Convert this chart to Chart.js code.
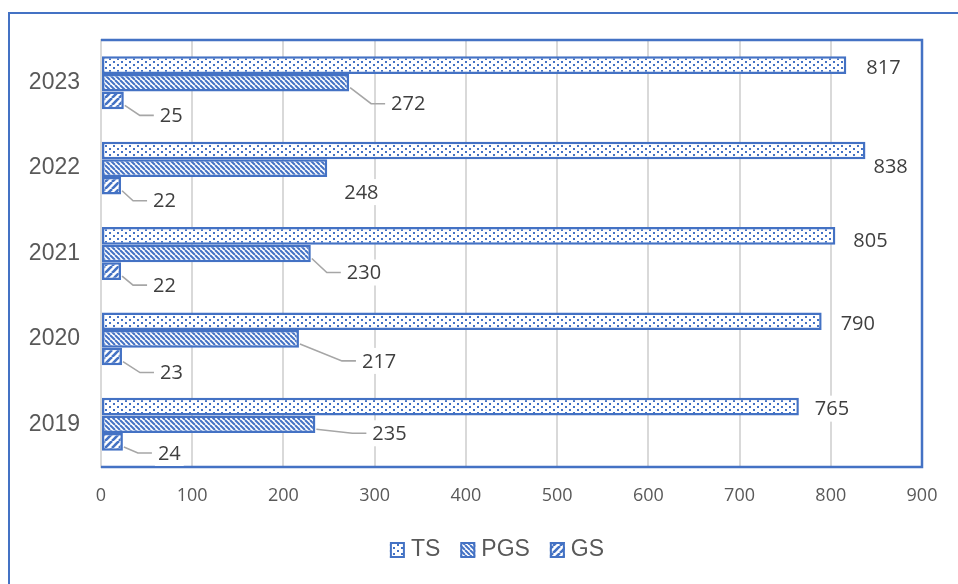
<!DOCTYPE html>
<html>
<head>
<meta charset="utf-8">
<script src="https://cdn.jsdelivr.net/npm/chart.js@4.4.1/dist/chart.umd.min.js"></script>
<style>
  html, body { margin: 0; padding: 0; background: #ffffff; }
  #wrap { width: 958px; height: 584px; position: relative; }
</style>
</head>
<body>
<div id="wrap"><canvas id="chart" width="958" height="584"></canvas></div>
<script>
// Years shown on the category axis, top to bottom
const categories = ['2023', '2022', '2021', '2020', '2019'];
// Series values per year
const tsValues  = [817, 838, 805, 790, 765];
const pgsValues = [272, 248, 230, 217, 235];
const gsValues  = [25, 22, 22, 23, 24];
const seriesNames = ['TS', 'PGS', 'GS'];
// Value axis ticks
const xTicks = [0, 100, 200, 300, 400, 500, 600, 700, 800, 900];

// Label placement relative to each bar's end: [dx, dy, leader line]
const labelPlacement = [
  [[20, 2, false], [8, 16, false], [18, 4, false], [19, 2, false], [16, 2, false]],
  [[42, 21, true], [17, 24, false], [36, 19, true], [63, 22, true], [57, 9, true]],
  [[36, 15, true], [32, 15, true], [32, 14, true], [38, 16, true], [35, 11, true]]
];

const BLUE = '#4472C4';

function makePattern(kind) {
  const c = document.createElement('canvas');
  const s = kind === 'dots' ? 8 : (kind === 'down' ? 5 : 7);
  c.width = s; c.height = kind === 'dots' ? 6 : s;
  const g = c.getContext('2d');
  g.fillStyle = '#ffffff';
  g.fillRect(0, 0, c.width, c.height);
  g.strokeStyle = BLUE;
  g.fillStyle = BLUE;
  if (kind === 'dots') {
    g.fillRect(1, 1, 2, 2);
    g.fillRect(5, 4, 2, 2);
  } else if (kind === 'down') {
    g.lineWidth = 2;
    for (let k = -1; k <= 1; k++) {
      g.beginPath(); g.moveTo(k * s, 0); g.lineTo(k * s + s, s); g.stroke();
    }
  } else {
    g.lineWidth = 2.6;
    for (let k = -1; k <= 1; k++) {
      g.beginPath(); g.moveTo(k * s, s); g.lineTo(k * s + s, 0); g.stroke();
    }
  }
  return g.createPattern(c, 'repeat');
}

const patterns = [makePattern('dots'), makePattern('down'), makePattern('up')];
const seriesValues = [tsValues, pgsValues, gsValues];

// Outer frame, plot border, value labels with leader lines, and legend
const decorations = {
  id: 'decorations',
  beforeDraw(chart) {
    const ctx = chart.ctx;
    ctx.save();
    ctx.fillStyle = '#ffffff';
    ctx.fillRect(0, 0, chart.width, chart.height);
    ctx.strokeStyle = BLUE;
    ctx.lineWidth = 2;
    ctx.strokeRect(9, 13, chart.width + 20, chart.height + 20);
    ctx.restore();
  },
  beforeDatasetsDraw(chart) {
    const a = chart.chartArea;
    const ctx = chart.ctx;
    ctx.save();
    ctx.strokeStyle = BLUE;
    ctx.lineWidth = 2.5;
    ctx.beginPath();
    ctx.moveTo(a.left, a.top); ctx.lineTo(a.right, a.top);
    ctx.lineTo(a.right, a.bottom); ctx.lineTo(a.left, a.bottom);
    ctx.stroke();
    ctx.restore();
  },
  afterDatasetsDraw(chart) {
    const ctx = chart.ctx;
    ctx.save();
    ctx.font = '20px "Open Sans"';
    ctx.textBaseline = 'middle';
    ctx.textAlign = 'left';
    chart.data.datasets.forEach((ds, di) => {
      const meta = chart.getDatasetMeta(di);
      meta.data.forEach((bar, i) => {
        const [dx, dy, leader] = labelPlacement[di][i];
        const text = String(ds.data[i]);
        const lx = bar.x + dx;
        const ly = bar.y + dy;
        const w = ctx.measureText(text).width;
        ctx.fillStyle = '#ffffff';
        ctx.fillRect(lx - 3, ly - 13, w + 6, 26);
        if (leader) {
          ctx.strokeStyle = '#a6a6a6';
          ctx.lineWidth = 1.6;
          ctx.beginPath();
          ctx.moveTo(bar.x + 1, bar.y + 5);
          ctx.lineTo(lx - 20, ly);
          ctx.lineTo(lx - 6, ly);
          ctx.stroke();
        }
        ctx.fillStyle = '#3f3f3f';
        ctx.fillText(text, lx, ly + 1);
      });
    });
    ctx.restore();
  },
  afterDraw(chart) {
    const ctx = chart.ctx;
    ctx.save();
    ctx.font = '23px "Liberation Sans"';
    ctx.textBaseline = 'middle';
    const box = 15, gapText = 6, gapItem = 20;
    const widths = seriesNames.map(n => box + gapText + ctx.measureText(n).width);
    const total = widths.reduce((s, v) => s + v, 0) + gapItem * (seriesNames.length - 1);
    let x = 497 - total / 2;
    const y = 550;
    seriesNames.forEach((n, i) => {
      ctx.fillStyle = patterns[i];
      ctx.fillRect(x, y - 8, box, 16);
      ctx.strokeStyle = BLUE;
      ctx.lineWidth = 2;
      ctx.strokeRect(x + 1, y - 7, box - 2, 14);
      ctx.fillStyle = '#595959';
      ctx.fillText(n, x + box + gapText, y);
      x += widths[i] + gapItem;
    });
    ctx.restore();
  }
};

new Chart(document.getElementById('chart'), {
  type: 'bar',
  data: {
    labels: categories,
    datasets: seriesNames.map((name, i) => ({
      label: name,
      data: seriesValues[i],
      backgroundColor: patterns[i],
      borderColor: BLUE,
      borderWidth: 2.5,
      borderSkipped: false,
      categoryPercentage: 0.62,
      barPercentage: 1.0
    }))
  },
  options: {
    indexAxis: 'y',
    responsive: false,
    animation: false,
    devicePixelRatio: 1,
    layout: { padding: { top: 40, right: 36, bottom: 67, left: 0 } },
    plugins: {
      legend: { display: false },
      tooltip: { enabled: false }
    },
    scales: {
      x: {
        min: xTicks[0],
        max: xTicks[xTicks.length - 1],
        afterBuildTicks(scale) { scale.ticks = xTicks.map(v => ({ value: v })); },
        afterFit(scale) { scale.height = 50; },
        grid: { color: '#d9d9d9', lineWidth: 2, drawTicks: false },
        border: { display: false },
        ticks: {
          padding: 18,
          color: '#595959',
          font: { family: '"Open Sans"', size: 18 }
        }
      },
      y: {
        afterFit(scale) { scale.width = 101; },
        grid: { display: false, drawTicks: false },
        border: { display: true, color: '#d9d9d9', width: 2 },
        ticks: {
          padding: 21,
          color: '#595959',
          font: { family: '"Liberation Sans"', size: 23 }
        }
      }
    }
  },
  plugins: [decorations]
});
</script>
</body>
</html>
